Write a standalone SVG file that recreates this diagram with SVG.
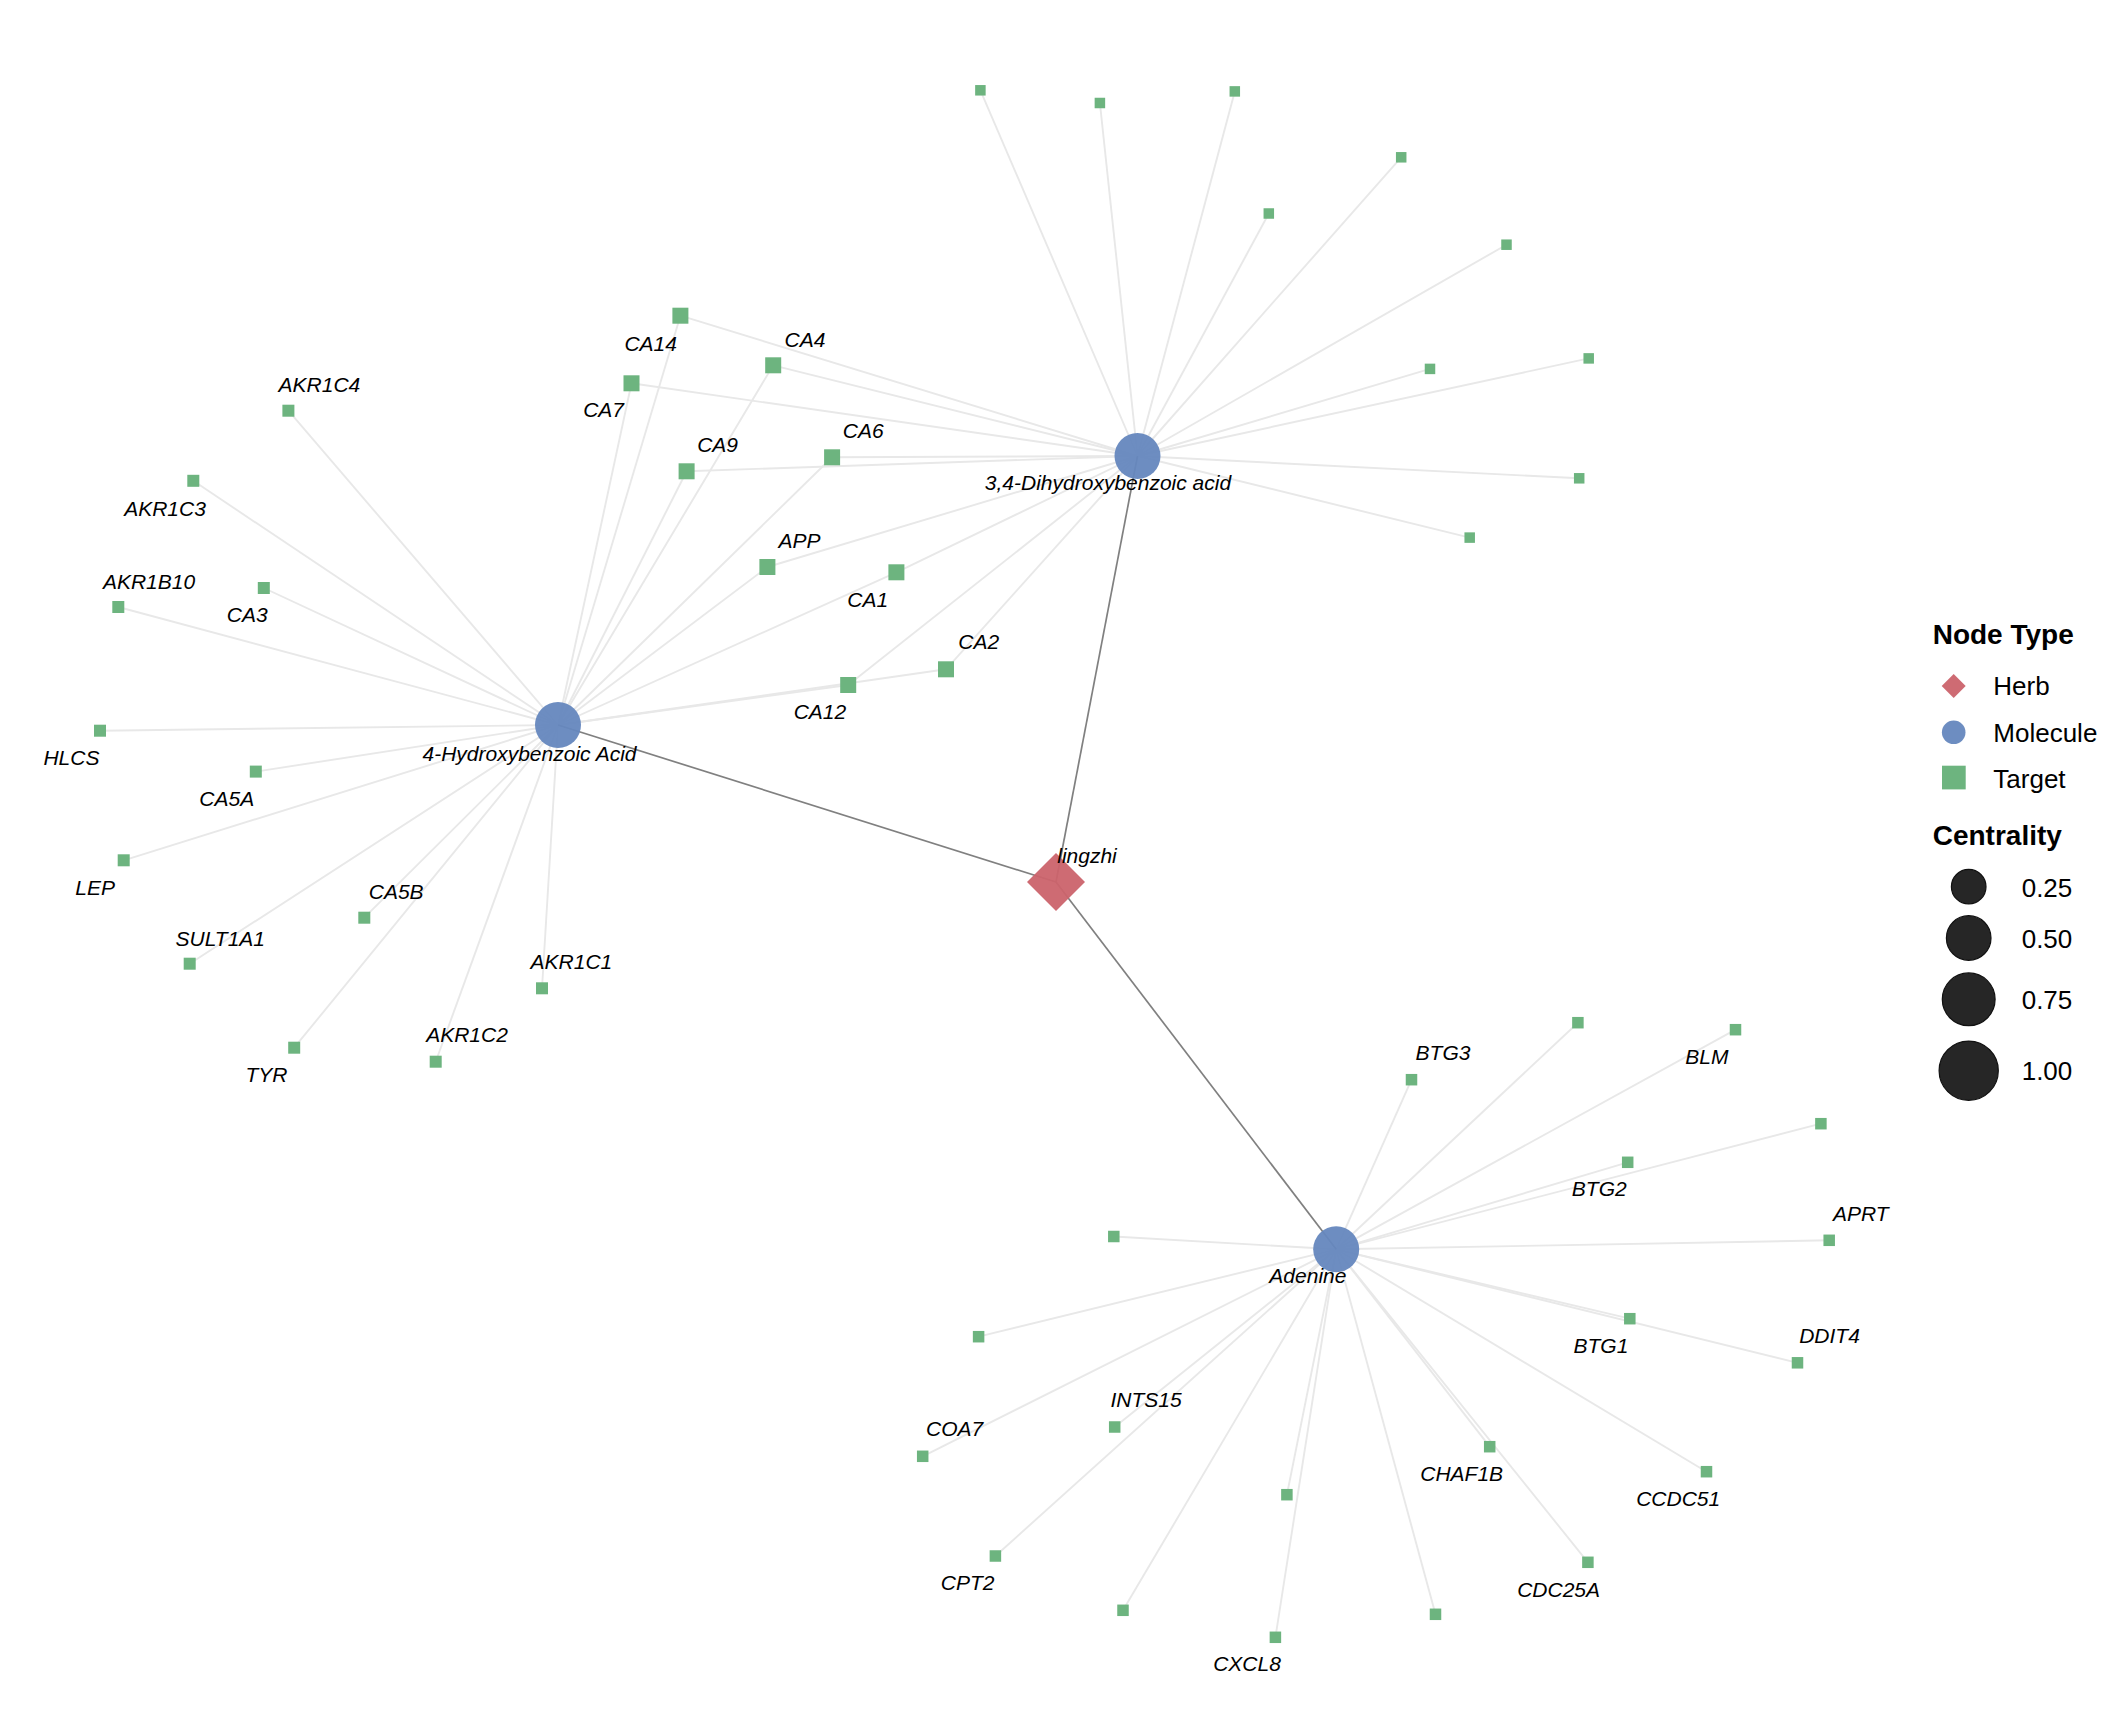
<svg xmlns="http://www.w3.org/2000/svg" width="2112" height="1728" viewBox="0 0 2112 1728">
<style>
.e{stroke:#e8e8e8;stroke-width:1.9;fill:none}
.h{stroke:#808080;stroke-width:1.7;fill:none}
.herb{fill:#cb636b;fill-opacity:0.95}
.mol{fill:#6587be;fill-opacity:0.95}
.tg{fill:#6db47f}
.lb{font-family:"Liberation Sans",Arial,sans-serif;font-style:italic;font-size:21px;fill:#000;text-anchor:middle}
.lt{font-family:"Liberation Sans",Arial,sans-serif;font-weight:bold;font-size:28px;fill:#000}
.li{font-family:"Liberation Sans",Arial,sans-serif;font-size:26px;fill:#000}
.cs{fill:#262626;stroke:#111;stroke-width:1.2}
</style>
<rect width="2112" height="1728" fill="#fff"/>
<g id="connectors">
<!-- 4-Hydroxybenzoic Acid edges -->
<line class="e" x1="558" y1="725" x2="288.4" y2="410.7"/>
<line class="e" x1="558" y1="725" x2="193.3" y2="480.8"/>
<line class="e" x1="558" y1="725" x2="118.3" y2="607"/>
<line class="e" x1="558" y1="725" x2="263.8" y2="588"/>
<line class="e" x1="558" y1="725" x2="100" y2="730.7"/>
<line class="e" x1="558" y1="725" x2="255.8" y2="771.6"/>
<line class="e" x1="558" y1="725" x2="123.7" y2="860.3"/>
<line class="e" x1="558" y1="725" x2="189.7" y2="963.7"/>
<line class="e" x1="558" y1="725" x2="364.3" y2="917.7"/>
<line class="e" x1="558" y1="725" x2="294.2" y2="1047.7"/>
<line class="e" x1="558" y1="725" x2="435.7" y2="1061.7"/>
<line class="e" x1="558" y1="725" x2="542" y2="988.3"/>
<line class="e" x1="558" y1="725" x2="680.4" y2="315.7"/>
<line class="e" x1="558" y1="725" x2="773.2" y2="365.3"/>
<line class="e" x1="558" y1="725" x2="631.5" y2="383.3"/>
<line class="e" x1="558" y1="725" x2="686.6" y2="471.3"/>
<line class="e" x1="558" y1="725" x2="832.1" y2="457.3"/>
<line class="e" x1="558" y1="725" x2="767.4" y2="567"/>
<line class="e" x1="558" y1="725" x2="896.4" y2="572.3"/>
<line class="e" x1="558" y1="725" x2="946" y2="669.3"/>
<line class="e" x1="558" y1="725" x2="848.2" y2="685"/>
<!-- 3,4-Dihydroxybenzoic acid edges -->
<line class="e" x1="1137.5" y1="456" x2="680.4" y2="315.7"/>
<line class="e" x1="1137.5" y1="456" x2="773.2" y2="365.3"/>
<line class="e" x1="1137.5" y1="456" x2="631.5" y2="383.3"/>
<line class="e" x1="1137.5" y1="456" x2="686.6" y2="471.3"/>
<line class="e" x1="1137.5" y1="456" x2="832.1" y2="457.3"/>
<line class="e" x1="1137.5" y1="456" x2="767.4" y2="567"/>
<line class="e" x1="1137.5" y1="456" x2="896.4" y2="572.3"/>
<line class="e" x1="1137.5" y1="456" x2="946" y2="669.3"/>
<line class="e" x1="1137.5" y1="456" x2="848.2" y2="685"/>
<line class="e" x1="1137.5" y1="456" x2="980.4" y2="90.3"/>
<line class="e" x1="1137.5" y1="456" x2="1099.9" y2="103"/>
<line class="e" x1="1137.5" y1="456" x2="1234.8" y2="91.4"/>
<line class="e" x1="1137.5" y1="456" x2="1401.2" y2="157.3"/>
<line class="e" x1="1137.5" y1="456" x2="1268.8" y2="213.5"/>
<line class="e" x1="1137.5" y1="456" x2="1506.5" y2="244.7"/>
<line class="e" x1="1137.5" y1="456" x2="1430" y2="368.9"/>
<line class="e" x1="1137.5" y1="456" x2="1588.7" y2="358.4"/>
<line class="e" x1="1137.5" y1="456" x2="1579.2" y2="478.3"/>
<line class="e" x1="1137.5" y1="456" x2="1469.7" y2="537.6"/>
<!-- Adenine edges -->
<line class="e" x1="1336.2" y1="1249.3" x2="1577.9" y2="1022.7"/>
<line class="e" x1="1336.2" y1="1249.3" x2="1735.5" y2="1029.7"/>
<line class="e" x1="1336.2" y1="1249.3" x2="1411.5" y2="1079.7"/>
<line class="e" x1="1336.2" y1="1249.3" x2="1820.9" y2="1123.7"/>
<line class="e" x1="1336.2" y1="1249.3" x2="1627.7" y2="1162.3"/>
<line class="e" x1="1336.2" y1="1249.3" x2="1829.2" y2="1240.3"/>
<line class="e" x1="1336.2" y1="1249.3" x2="1113.8" y2="1236.5"/>
<line class="e" x1="1336.2" y1="1249.3" x2="978.6" y2="1336.7"/>
<line class="e" x1="1336.2" y1="1249.3" x2="1629.8" y2="1318.7"/>
<line class="e" x1="1336.2" y1="1249.3" x2="1797.5" y2="1362.8"/>
<line class="e" x1="1336.2" y1="1249.3" x2="1114.7" y2="1427"/>
<line class="e" x1="1336.2" y1="1249.3" x2="922.7" y2="1456.3"/>
<line class="e" x1="1336.2" y1="1249.3" x2="1489.7" y2="1446.7"/>
<line class="e" x1="1336.2" y1="1249.3" x2="1706.5" y2="1471.7"/>
<line class="e" x1="1336.2" y1="1249.3" x2="1286.9" y2="1494.7"/>
<line class="e" x1="1336.2" y1="1249.3" x2="995.4" y2="1556"/>
<line class="e" x1="1336.2" y1="1249.3" x2="1587.9" y2="1562.3"/>
<line class="e" x1="1336.2" y1="1249.3" x2="1123" y2="1610.3"/>
<line class="e" x1="1336.2" y1="1249.3" x2="1435.5" y2="1614.3"/>
<line class="e" x1="1336.2" y1="1249.3" x2="1275.4" y2="1637.3"/>
<!-- herb edges -->
<line class="h" x1="1056" y1="882" x2="558" y2="725"/>
<line class="h" x1="1056" y1="882" x2="1137.5" y2="456"/>
<line class="h" x1="1056" y1="882" x2="1336.2" y2="1249.3"/>
</g>
<g id="targets-shared">
<g id="n-CA14"><rect class="tg" x="672.4" y="307.7" width="16" height="16"/><text class="lb" x="650.7" y="350.6">CA14</text></g>
<g id="n-CA4"><rect class="tg" x="765.2" y="357.3" width="16" height="16"/><text class="lb" x="805" y="346.7">CA4</text></g>
<g id="n-CA7"><rect class="tg" x="623.5" y="375.3" width="16" height="16"/><text class="lb" x="603.6" y="417.2">CA7</text></g>
<g id="n-CA9"><rect class="tg" x="678.6" y="463.3" width="16" height="16"/><text class="lb" x="717.6" y="452">CA9</text></g>
<g id="n-CA6"><rect class="tg" x="824.1" y="449.3" width="16" height="16"/><text class="lb" x="863.2" y="437.7">CA6</text></g>
<g id="n-APP"><rect class="tg" x="759.4" y="559" width="16" height="16"/><text class="lb" x="799.5" y="547.7">APP</text></g>
<g id="n-CA1"><rect class="tg" x="888.4" y="564.3" width="16" height="16"/><text class="lb" x="867.7" y="606.7">CA1</text></g>
<g id="n-CA2"><rect class="tg" x="938" y="661.3" width="16" height="16"/><text class="lb" x="978.8" y="649">CA2</text></g>
<g id="n-CA12"><rect class="tg" x="840.2" y="677" width="16" height="16"/><text class="lb" x="819.9" y="719">CA12</text></g>
</g>
<g id="targets-hba">
<g id="n-AKR1C4"><rect class="tg" x="282.4" y="404.7" width="12" height="12"/><text class="lb" x="319.4" y="392.4">AKR1C4</text></g>
<g id="n-AKR1C3"><rect class="tg" x="187.3" y="474.8" width="12" height="12"/><text class="lb" x="165" y="516">AKR1C3</text></g>
<g id="n-AKR1B10"><rect class="tg" x="112.3" y="601" width="12" height="12"/><text class="lb" x="149" y="588.7">AKR1B10</text></g>
<g id="n-CA3"><rect class="tg" x="257.8" y="582" width="12" height="12"/><text class="lb" x="247.3" y="622.4">CA3</text></g>
<g id="n-HLCS"><rect class="tg" x="94" y="724.7" width="12" height="12"/><text class="lb" x="71.4" y="764.7">HLCS</text></g>
<g id="n-CA5A"><rect class="tg" x="249.8" y="765.6" width="12" height="12"/><text class="lb" x="226.8" y="806">CA5A</text></g>
<g id="n-LEP"><rect class="tg" x="117.7" y="854.3" width="12" height="12"/><text class="lb" x="95.1" y="895">LEP</text></g>
<g id="n-SULT1A1"><rect class="tg" x="183.7" y="957.7" width="12" height="12"/><text class="lb" x="220.3" y="945.7">SULT1A1</text></g>
<g id="n-CA5B"><rect class="tg" x="358.3" y="911.7" width="12" height="12"/><text class="lb" x="396.2" y="899">CA5B</text></g>
<g id="n-TYR"><rect class="tg" x="288.2" y="1041.7" width="12" height="12"/><text class="lb" x="266.5" y="1082.3">TYR</text></g>
<g id="n-AKR1C2"><rect class="tg" x="429.7" y="1055.7" width="12" height="12"/><text class="lb" x="467" y="1042.3">AKR1C2</text></g>
<g id="n-AKR1C1"><rect class="tg" x="536" y="982.3" width="12" height="12"/><text class="lb" x="571.4" y="969.3">AKR1C1</text></g>
</g>
<g id="targets-dhba">
<rect id="n-d1" class="tg" x="975.15" y="85.05" width="10.5" height="10.5"/>
<rect id="n-d2" class="tg" x="1094.65" y="97.75" width="10.5" height="10.5"/>
<rect id="n-d3" class="tg" x="1229.55" y="86.15" width="10.5" height="10.5"/>
<rect id="n-d4" class="tg" x="1395.95" y="152.05" width="10.5" height="10.5"/>
<rect id="n-d5" class="tg" x="1263.55" y="208.25" width="10.5" height="10.5"/>
<rect id="n-d6" class="tg" x="1501.25" y="239.45" width="10.5" height="10.5"/>
<rect id="n-d7" class="tg" x="1424.75" y="363.65" width="10.5" height="10.5"/>
<rect id="n-d8" class="tg" x="1583.45" y="353.15" width="10.5" height="10.5"/>
<rect id="n-d9" class="tg" x="1573.95" y="473.05" width="10.5" height="10.5"/>
<rect id="n-d10" class="tg" x="1464.45" y="532.35" width="10.5" height="10.5"/>
</g>
<g id="targets-adenine">
<rect id="n-a1" class="tg" x="1572.15" y="1016.95" width="11.5" height="11.5"/>
<g id="n-BLM"><rect class="tg" x="1729.75" y="1023.95" width="11.5" height="11.5"/><text class="lb" x="1706.8" y="1064.3">BLM</text></g>
<g id="n-BTG3"><rect class="tg" x="1405.75" y="1073.95" width="11.5" height="11.5"/><text class="lb" x="1443" y="1060">BTG3</text></g>
<rect id="n-a2" class="tg" x="1815.15" y="1117.95" width="11.5" height="11.5"/>
<g id="n-BTG2"><rect class="tg" x="1621.95" y="1156.55" width="11.5" height="11.5"/><text class="lb" x="1599.3" y="1196">BTG2</text></g>
<g id="n-APRT"><rect class="tg" x="1823.45" y="1234.55" width="11.5" height="11.5"/><text class="lb" x="1860.8" y="1220.7">APRT</text></g>
<rect id="n-a3" class="tg" x="1108.05" y="1230.75" width="11.5" height="11.5"/>
<rect id="n-a4" class="tg" x="972.85" y="1330.95" width="11.5" height="11.5"/>
<g id="n-BTG1"><rect class="tg" x="1624.05" y="1312.95" width="11.5" height="11.5"/><text class="lb" x="1600.9" y="1352.7">BTG1</text></g>
<g id="n-DDIT4"><rect class="tg" x="1791.75" y="1357.05" width="11.5" height="11.5"/><text class="lb" x="1829.5" y="1343.3">DDIT4</text></g>
<g id="n-INTS15"><rect class="tg" x="1108.95" y="1421.25" width="11.5" height="11.5"/><text class="lb" x="1146" y="1407.3">INTS15</text></g>
<g id="n-COA7"><rect class="tg" x="916.95" y="1450.55" width="11.5" height="11.5"/><text class="lb" x="954.6" y="1436">COA7</text></g>
<g id="n-CHAF1B"><rect class="tg" x="1483.95" y="1440.95" width="11.5" height="11.5"/><text class="lb" x="1461.7" y="1481">CHAF1B</text></g>
<g id="n-CCDC51"><rect class="tg" x="1700.75" y="1465.95" width="11.5" height="11.5"/><text class="lb" x="1678.2" y="1506">CCDC51</text></g>
<rect id="n-a5" class="tg" x="1281.15" y="1488.95" width="11.5" height="11.5"/>
<g id="n-CPT2"><rect class="tg" x="989.65" y="1550.25" width="11.5" height="11.5"/><text class="lb" x="967.7" y="1590">CPT2</text></g>
<g id="n-CDC25A"><rect class="tg" x="1582.15" y="1556.55" width="11.5" height="11.5"/><text class="lb" x="1558.6" y="1596.7">CDC25A</text></g>
<rect id="n-a6" class="tg" x="1117.25" y="1604.55" width="11.5" height="11.5"/>
<rect id="n-a7" class="tg" x="1429.75" y="1608.55" width="11.5" height="11.5"/>
<g id="n-CXCL8"><rect class="tg" x="1269.65" y="1631.55" width="11.5" height="11.5"/><text class="lb" x="1247" y="1670.7">CXCL8</text></g>
</g>
<g id="n-HBA"><circle class="mol" cx="558" cy="725" r="23"/><text class="lb" x="529.5" y="760.7">4-Hydroxybenzoic Acid</text></g>
<g id="n-DHBA"><circle class="mol" cx="1137.5" cy="456" r="23"/><text class="lb" x="1108" y="490">3,4-Dihydroxybenzoic acid</text></g>
<g id="n-Adenine"><circle class="mol" cx="1336.2" cy="1249.3" r="23"/><text class="lb" x="1307.9" y="1282.7">Adenine</text></g>
<g id="n-lingzhi"><polygon class="herb" points="1056,853 1085,882 1056,911 1027,882"/><text class="lb" x="1087" y="863.3">lingzhi</text></g>
<g id="legend">
<text class="lt" x="1932.7" y="644.3">Node Type</text>
<polygon class="herb" points="1953.7,674 1965.7,686 1953.7,698 1941.7,686"/>
<text class="li" x="1993.3" y="695">Herb</text>
<circle class="mol" cx="1953.7" cy="732.3" r="11.8"/>
<text class="li" x="1993.3" y="741.7">Molecule</text>
<rect class="tg" x="1942" y="765.7" width="23.7" height="23.7"/>
<text class="li" x="1993.3" y="787.7">Target</text>
<text class="lt" x="1932.7" y="845">Centrality</text>
<circle class="cs" cx="1968.7" cy="886.7" r="17.3"/>
<text class="li" x="2021.7" y="896.7">0.25</text>
<circle class="cs" cx="1968.7" cy="938" r="22.3"/>
<text class="li" x="2021.7" y="947.7">0.50</text>
<circle class="cs" cx="1968.7" cy="999.3" r="26.4"/>
<text class="li" x="2021.7" y="1008.7">0.75</text>
<circle class="cs" cx="1968.7" cy="1070.7" r="29.6"/>
<text class="li" x="2021.7" y="1080">1.00</text>
</g>
</svg>
